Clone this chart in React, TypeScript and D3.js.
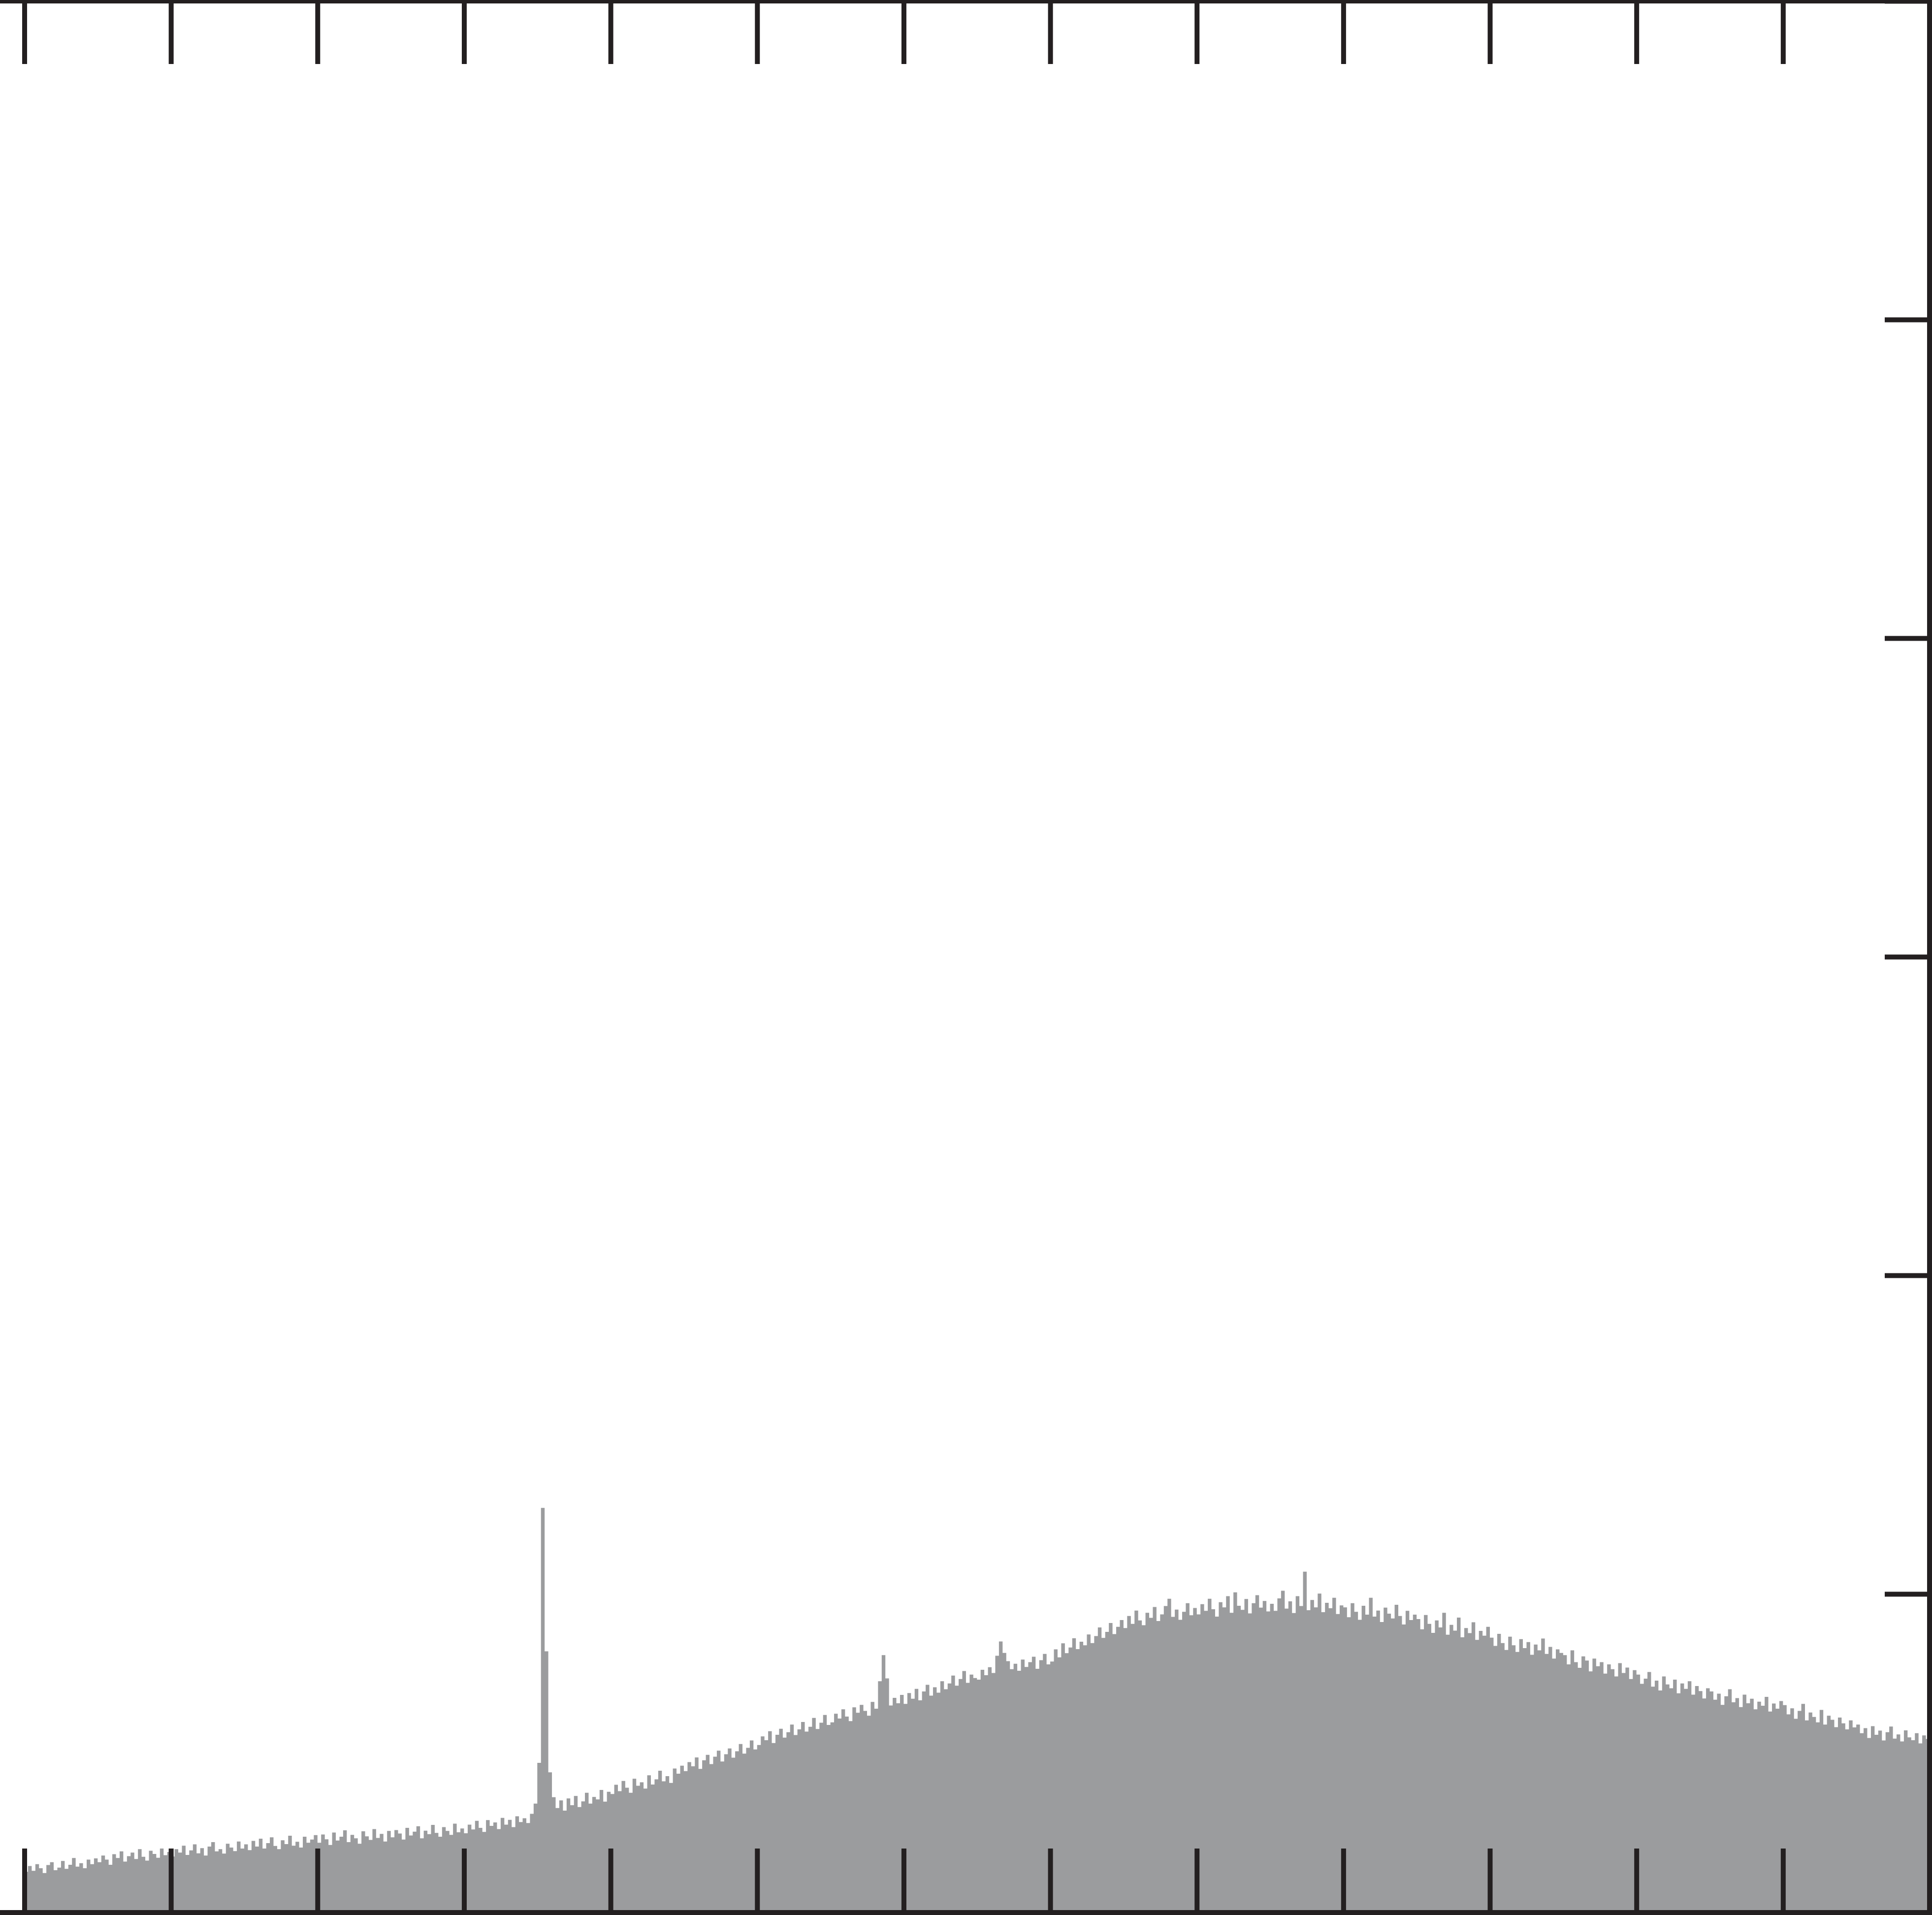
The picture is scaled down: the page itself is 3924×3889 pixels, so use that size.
import React, { useEffect, useRef } from 'react';
import * as d3 from 'd3';

// Figure size (px) and frame colours
const WIDTH = 3924;
const HEIGHT = 3889;
const INK = '#231f20';
const FILL = '#9b9c9e';

// Histogram: bin width in x units, counts per bin
const binWidth = 0.025;
const xTickValues = [0, 1, 2, 3, 4, 5, 6, 7, 8, 9, 10, 11, 12, 13];
const yTickValues = [0, 1000, 2000, 3000, 4000, 5000, 6000];

const counts = [
  128, 146, 131, 152, 139, 124, 149, 158, 133, 141, 162, 137, 150, 171, 144, 155, 139, 166, 152, 170,
  158, 179, 166, 150, 183, 171, 192, 160, 177, 188, 168, 199, 175, 163, 194, 184, 172, 201, 180, 190,
  176, 199, 188, 210, 181, 195, 214, 186, 202, 179, 207, 221, 192, 199, 185, 216, 204, 193, 223, 201,
  214, 196, 225, 207, 232, 201, 218, 236, 209, 199, 227, 215, 241, 210, 222, 204, 238, 219, 229, 243,
  219, 245, 230, 212, 251, 226, 238, 258, 221, 244, 233, 216, 255, 239, 228, 262, 234, 247, 223, 256,
  236, 259, 248, 229, 266, 242, 254, 271, 233, 257, 246, 275, 250, 238, 268, 256, 244, 279, 252, 264,
  249, 276, 261, 288, 266, 253, 290, 272, 283, 262, 297, 276, 291, 268, 302, 284, 296, 281, 310, 342,
  470, 1270, 820, 440, 362, 328, 352, 320, 358, 337, 366, 331, 349, 376, 342, 363, 355, 385, 348, 379,
  372, 401, 381, 413, 392, 376, 420, 398, 409, 389, 431, 402, 418, 445, 412, 428, 407, 452, 436, 461,
  444, 472, 459, 487, 451, 478, 495, 466, 489, 508, 474, 497, 515, 486, 506, 529, 499, 517, 540, 512,
  526, 553, 541, 569, 532, 558, 577, 549, 566, 590, 557, 575, 598, 568, 583, 611, 576, 596, 620, 589,
  597, 624, 609, 638, 615, 601, 644, 627, 652, 633, 618, 661, 640, 726, 808, 735, 650, 674, 657, 683,
  655, 689, 671, 702, 666, 694, 715, 681, 707, 690, 726, 701, 719, 744, 712, 733, 758, 721, 747, 736,
  731, 762, 745, 770, 752, 806, 851, 815, 789, 764, 781, 759, 794, 771, 786, 803, 765, 792, 812, 779,
  788, 826, 801, 845, 814, 832, 861, 827, 850, 839, 873, 846, 868, 895, 862, 881, 909, 874, 897, 918,
  893, 931, 906, 948, 917, 902, 941, 925, 959, 915, 936, 962, 985, 928, 951, 919, 944, 971, 933, 956,
  936, 968, 947, 985, 952, 929, 974, 958, 993, 941, 1005, 963, 950, 984, 939, 971, 996, 957, 978, 945,
  969, 947, 986, 1010, 954, 977, 940, 993, 962, 1070, 949, 981, 958, 1001, 943, 972, 955, 988, 937, 964,
  958, 927, 971, 944, 919, 963, 935, 988, 929, 948, 912, 957, 938, 923, 966, 931, 904, 947, 918, 935,
  921, 889, 934, 906, 878, 917, 895, 941, 872, 903, 885, 926, 864, 893, 877, 911, 856, 884, 869, 897,
  863, 837, 875, 846, 824, 866, 839, 818, 858, 830, 849, 809, 841, 823, 860, 812, 834, 797, 826, 815,
  808, 779, 823, 786, 768, 804, 791, 757, 797, 773, 786, 750, 779, 764, 741, 783, 752, 769, 733, 761,
  747, 718, 734, 755, 709, 728, 697, 741, 716, 704, 731, 688, 719, 702, 726, 684, 711, 695, 672, 704,
  694, 668, 687, 652, 679, 701, 660, 673, 645, 684, 657, 671, 638, 662, 649, 677, 631, 656, 640, 664,
  651, 622, 641, 608, 633, 655, 603, 628, 614, 597, 636, 590, 618, 605, 582, 612, 594, 575, 603, 581,
  590, 563, 579, 548, 585, 558, 571, 540, 566, 584, 546, 559, 537, 572, 550, 541, 563, 531, 556, 545,
];

const Histogram: React.FC = () => {
  const svgRef = useRef<SVGSVGElement>(null);

  useEffect(() => {
    if (!svgRef.current) return;
    const svg = d3.select(svgRef.current);
    svg.selectAll('*').remove();

    // plot box (spine centres); the left spine sits outside the picture
    const left = 49.5;
    const right = 3919;
    const top = 2;
    const bottom = 3884;

    const x = d3
      .scaleLinear()
      .domain([0, xTickValues[xTickValues.length - 1]])
      .range([left, right]);
    const y = d3
      .scaleLinear()
      .domain([0, yTickValues[yTickValues.length - 1]])
      .range([bottom, top]);

    // step outline of the bins
    const pts = counts.map((c, i) => ({ x0: i * binWidth, c }));
    pts.push({ x0: counts.length * binWidth, c: counts[counts.length - 1] });

    const area = d3
      .area<{ x0: number; c: number }>()
      .x(d => x(d.x0))
      .y0(y(0))
      .y1(d => y(d.c))
      .curve(d3.curveStepAfter);

    svg
      .append('path')
      .datum(pts)
      .attr('d', area)
      .attr('fill', FILL)
      .attr('stroke', 'none');

    const styleAxis = (g: d3.Selection<SVGGElement, unknown, null, undefined>) => {
      g.select('.domain').remove();
      g.selectAll('.tick line')
        .attr('stroke', INK)
        .attr('stroke-width', 10);
      g.selectAll('.tick text').remove();
    };

    svg
      .append('g')
      .attr('transform', `translate(0,${bottom})`)
      .call(
        d3.axisBottom(x).tickValues(xTickValues).tickSizeInner(-130).tickSizeOuter(0).tickFormat(() => '')
      )
      .call(styleAxis);

    svg
      .append('g')
      .attr('transform', `translate(0,${top})`)
      .call(
        d3.axisTop(x).tickValues(xTickValues).tickSizeInner(-128).tickSizeOuter(0).tickFormat(() => '')
      )
      .call(styleAxis);

    svg
      .append('g')
      .attr('transform', `translate(${right},0)`)
      .call(
        d3.axisRight(y).tickValues(yTickValues).tickSizeInner(-91).tickSizeOuter(0).tickFormat(() => '')
      )
      .call(styleAxis);

    // spines
    const spines = [
      [-20, top, WIDTH + 20, top],
      [-20, bottom, WIDTH + 20, bottom],
      [right, -20, right, HEIGHT + 20],
    ];
    svg
      .selectAll('.spine')
      .data(spines)
      .join('line')
      .attr('class', 'spine')
      .attr('x1', d => d[0])
      .attr('y1', d => d[1])
      .attr('x2', d => d[2])
      .attr('y2', d => d[3])
      .attr('stroke', INK)
      .attr('stroke-width', 10);
  }, []);

  return (
    <svg
      ref={svgRef}
      width={WIDTH}
      height={HEIGHT}
      style={{ position: 'absolute', left: 0, top: 0, display: 'block', background: '#fff' }}
    />
  );
};

export default function App() {
  return <Histogram />;
}
